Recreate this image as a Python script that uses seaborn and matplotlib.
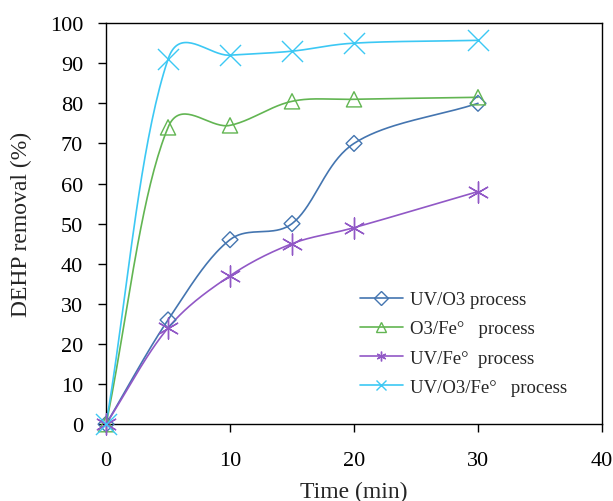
import numpy as np
import pandas as pd
import matplotlib
matplotlib.use("Agg")
import matplotlib.pyplot as plt
import seaborn as sns
from matplotlib.lines import Line2D

time_min = [0, 5, 10, 15, 20, 30]
uv_o3 = [0, 26, 46, 50, 70, 80]
o3_fe = [0, 74, 74.5, 80.5, 81, 81.5]
uv_fe = [0, 24, 37, 45, 49, 58]
uv_o3_fe = [0, 91, 92, 93, 95, 95.7]

labels = ["UV/O3 process", "O3/Fe°   process", "UV/Fe°  process", "UV/O3/Fe°   process"]
series = [uv_o3, o3_fe, uv_fe, uv_o3_fe]
colors = ["#4475b0", "#62b552", "#9158c6", "#3cc8f4"]
markers = ["D", "^", (6, 2, 0), "x"]
msizes = [65, 120, 230, 230]

# pixel per data unit, used so smoothing follows what you see on screen
PX_X, PX_Y = 496 / 40, 401 / 100


def smooth(x, y, n=40):
    # Excel-like smoothed line: bezier with distance-weighted tangents
    x = np.asarray(x, float)
    y = np.asarray(y, float)
    px = np.concatenate([[x[0]], x, [x[-1]]])
    py = np.concatenate([[y[0]], y, [y[-1]]])

    def dist(a, b):
        return np.hypot((b[0] - a[0]) * PX_X, (b[1] - a[1]) * PX_Y)

    xs, ys = [], []
    t = np.linspace(0, 1, n)
    for i in range(1, len(px) - 2):
        p0 = np.array([px[i - 1], py[i - 1]])
        p1 = np.array([px[i], py[i]])
        p2 = np.array([px[i + 1], py[i + 1]])
        p3 = np.array([px[i + 2], py[i + 2]])
        d01, d12, d23 = np.sqrt(dist(p0, p1)), np.sqrt(dist(p1, p2)), np.sqrt(dist(p2, p3))
        f1 = d12 / (d01 + d12) / 3
        f2 = d12 / (d12 + d23) / 3
        c1 = p1 + (p2 - p0) * f1
        c2 = p2 - (p3 - p1) * f2
        b = ((1 - t) ** 3)[:, None] * p1 + (3 * (1 - t) ** 2 * t)[:, None] * c1 \
            + (3 * (1 - t) * t ** 2)[:, None] * c2 + (t ** 3)[:, None] * p2
        xs.extend(b[:, 0])
        ys.extend(b[:, 1])
    return xs, ys


sns.set_style("ticks")
plt.rcParams["font.family"] = ["Liberation Serif", "DejaVu Serif"]

fig = plt.figure(figsize=(6.13, 5.02), dpi=100)
ax = fig.add_axes([0.173, 0.153, 0.809, 0.799])

handles = []
for vals, lab, c, m, s in zip(series, labels, colors, markers, msizes):
    sx, sy = smooth(time_min, vals)
    curve = pd.DataFrame({"t": sx, "v": sy})
    sns.lineplot(data=curve, x="t", y="v", sort=False, color=c, lw=1.2, ax=ax,
                 estimator=None)
    pts = pd.DataFrame({"t": time_min, "v": vals})
    filled = m in ["x", (6, 2, 0)]
    sns.scatterplot(data=pts, x="t", y="v", marker=m, s=s, ax=ax,
                    facecolor=c if filled else "none", edgecolor=c,
                    color=c, linewidth=1.0, zorder=3)
    handles.append(Line2D([], [], color=c, lw=1.2, marker=m, markersize=7,
                          markerfacecolor="none" if not filled else c,
                          markeredgecolor=c, markeredgewidth=1.0))

for coll in ax.collections:
    coll.set_clip_on(False)

ax.set_xlim(0, 40)
ax.set_ylim(0, 100)
ax.set_xticks(range(0, 41, 10))
ax.set_yticks(range(0, 101, 10))
ax.tick_params(direction="out", length=6, width=1, labelsize=16, colors="black")
ax.tick_params(axis="x", pad=13.5)
ax.tick_params(axis="y", pad=10.5)
for sp in ax.spines.values():
    sp.set_visible(True)
    sp.set_color("black")
    sp.set_linewidth(1)
ax.set_xlabel("Time (min)", fontsize=17)
ax.set_ylabel("DEHP removal (%)", fontsize=17)
ax.xaxis.set_label_coords(0.5, -0.142)
ax.yaxis.set_label_coords(-0.149, 0.5)

ax.legend(handles, labels, loc="upper left", bbox_to_anchor=(0.587, 0.418),
          bbox_transform=fig.transFigure, borderaxespad=0, borderpad=0,
          frameon=False, fontsize=13.5, handlelength=2.3, labelspacing=0.64,
          handletextpad=0.37)

fig.savefig("out.png", dpi=100)
